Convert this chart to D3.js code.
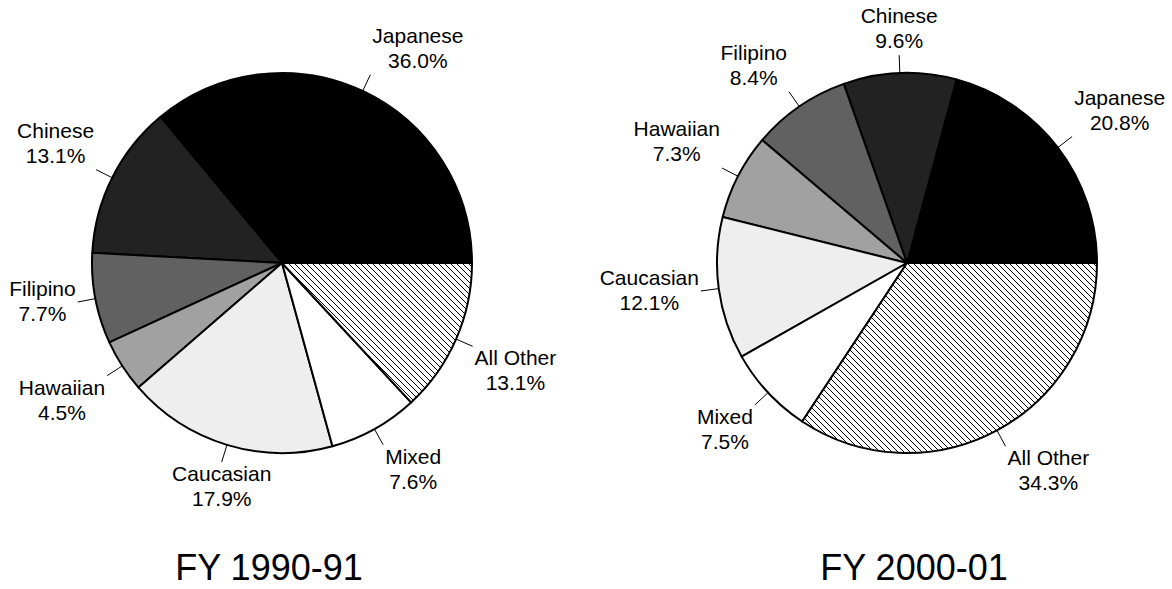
<!DOCTYPE html>
<html>
<head>
<meta charset="utf-8">
<script src="https://cdn.jsdelivr.net/npm/d3@7"></script>
<style>
  body { margin: 0; background: #fff; }
  text { font-family: "Liberation Sans", Arial, sans-serif; fill: #000; }
</style>
</head>
<body>
<div id="chart"></div>
<script>
// ethnic groups, in drawing order (counter-clockwise from 3 o'clock)
var categories = ['Japanese', 'Chinese', 'Filipino', 'Hawaiian', 'Caucasian', 'Mixed', 'All Other']
var share1990 = [36.0, 13.1, 7.7, 4.5, 17.9, 7.6, 13.1]
var share2000 = [20.8, 9.6, 8.4, 7.3, 12.1, 7.5, 34.3]
var titles = ['FY 1990-91', 'FY 2000-01']

var width = 1172, height = 589
var radius = 190, leader = 18

var panels = [
  {title: titles[0], values: share1990, cx: 282, cy: 263, tx: 269},
  {title: titles[1], values: share2000, cx: 907, cy: 263, tx: 914}
]

var color = d3.scaleOrdinal()
  .domain(categories)
  .range(['#000000', '#222222', '#616161', '#a1a1a1', '#eeeeee', '#ffffff', 'url(#hatch)'])

var svg = d3.select('#chart').append('svg')
  .attr('width', width).attr('height', height)

var hatch = svg.append('defs').append('pattern')
  .attr('id', 'hatch')
  .attr('patternUnits', 'userSpaceOnUse')
  .attr('width', 6).attr('height', 6)
hatch.append('rect').attr('width', 6).attr('height', 6).attr('fill', '#fff')
hatch.append('path')
  .attr('d', 'M0,0L6,6M-1,5L1,7M5,-1L7,1')
  .attr('stroke', '#000').attr('stroke-width', 1)

// start at 3 o'clock and go counter-clockwise
var pie = d3.pie().sort(null)
  .startAngle(Math.PI / 2)
  .endAngle(Math.PI / 2 - 2 * Math.PI)

var arc = d3.arc().innerRadius(0).outerRadius(radius)
var fmt = d3.format('.1f')

function clamp(a, b, c){ return Math.max(a, Math.min(b, c)) }
function ramp(v, lo, span){ return Math.sign(v) * clamp(0, 1, (Math.abs(v) - lo) / span) }

panels.forEach(function(p){
  var data = categories.map(function(c, i){ return {name: c, value: p.values[i]} })
  var arcs = pie.value(function(d){ return d.value })(data)

  var g = svg.append('g').attr('transform', 'translate(' + p.cx + ',' + p.cy + ')')

  g.selectAll('path.slice').data(arcs).enter().append('path')
    .attr('class', 'slice')
    .attr('d', arc)
    .attr('fill', function(d){ return color(d.data.name) })
    .attr('stroke', '#000')
    .attr('stroke-width', 2)
    .attr('stroke-linejoin', 'round')

  arcs.forEach(function(d){
    var a = (d.startAngle + d.endAngle) / 2
    var dx = Math.sin(a), up = Math.cos(a)
    var ax = (radius + leader) * dx, ay = -(radius + leader) * up

    g.append('line')
      .attr('x1', radius * dx).attr('y1', -radius * up)
      .attr('x2', ax).attr('y2', ay)
      .attr('stroke', '#000').attr('stroke-width', 1)

    // label box hugs the leader end, sliding round with the angle
    var fx = ramp(dx, 0.3, 0.1)
    var fy = ramp(up, 0.2, 0.2)
    var y1 = ay - 6.5 - fy * 25.5

    var t = g.append('text').attr('text-anchor', 'middle').style('font-size', '21px')
    var l1 = t.append('tspan').attr('y', y1).text(d.data.name)
    var l2 = t.append('tspan').attr('y', y1 + 25).text(fmt(d.data.value) + '%')
    var w = Math.max(l1.node().getComputedTextLength(), l2.node().getComputedTextLength())
    var x = ax + fx * (w / 2 + 2)
    l1.attr('x', x)
    l2.attr('x', x)
  })

  svg.append('text')
    .attr('x', p.tx).attr('y', 580)
    .attr('text-anchor', 'middle')
    .style('font-size', '36px')
    .text(p.title)
})
</script>
</body>
</html>
